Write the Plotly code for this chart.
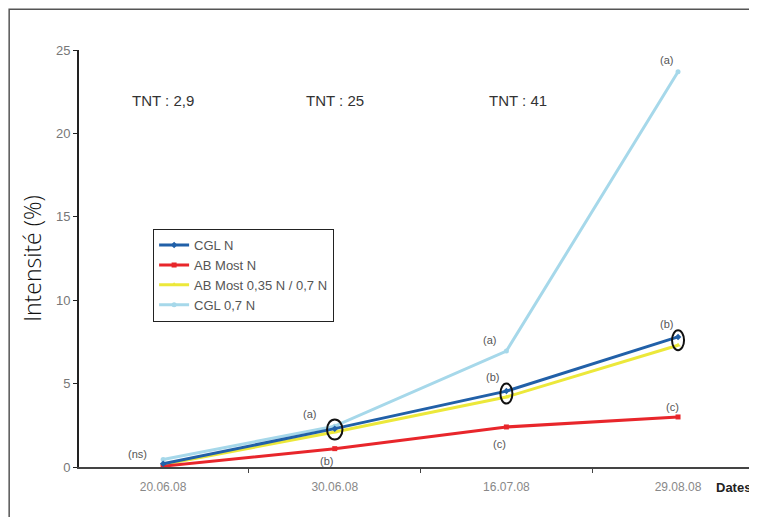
import plotly.graph_objects as go

dates = ["20.06.08", "30.06.08", "16.07.08", "29.08.08"]
cgl_n = [0.2, 2.3, 4.55, 7.8]
ab_most_n = [0.05, 1.1, 2.4, 3.0]
ab_most_mix = [0.15, 2.1, 4.2, 7.3]
cgl_07n = [0.45, 2.45, 6.95, 23.7]

tnt_labels = ["TNT : 2,9", "TNT : 25", "TNT : 41"]
letters = [
    (0, 0.75, "(ns)", -0.15), (1, 3.2, "(a)", -0.15), (1, 0.35, "(b)", -0.05),
    (2, 7.6, "(a)", -0.1), (2, 5.4, "(b)", -0.08), (2, 1.4, "(c)", -0.04),
    (3, 8.6, "(b)", -0.07), (3, 3.6, "(c)", -0.03), (3, 24.4, "(a)", -0.07),
]
circled = [(1, 2.25, 0.045), (2, 4.4, 0.035), (3, 7.6, 0.035)]

series = [
    ("CGL 0,7 N", cgl_07n, "#a6d8ea", "circle", 4),
    ("AB Most 0,35 N / 0,7 N", ab_most_mix, "#ece83a", "triangle-up", 3),
    ("AB Most N", ab_most_n, "#e8262b", "square", 2),
    ("CGL N", cgl_n, "#2160a8", "diamond", 1),
]

fig = go.Figure()
for name, vals, col, sym, rank in series:
    fig.add_trace(go.Scatter(
        x=dates, y=vals, name=name, mode="lines+markers",
        line=dict(color=col, width=3),
        marker=dict(color=col, size=5, symbol=sym),
        legendrank=rank,
    ))

ann = []
for i, t in enumerate(tnt_labels):
    ann.append(dict(x=i + (0.07 if i == 2 else 0), y=22.0, xref="x", yref="y", text=t,
                    showarrow=False, font=dict(size=15, color="#333")))
for xi, yv, t, dx in letters:
    ann.append(dict(x=xi + dx, y=yv, xref="x", yref="y", text=t,
                    showarrow=False, font=dict(size=11, color="#555")))
ann.append(dict(x=1.0, y=0, xref="paper", yref="paper", xanchor="right", yanchor="top",
                yshift=-11, xshift=-4, text="<b>Dates</b>", showarrow=False,
                font=dict(size=13, color="#222")))

shapes = []
for xi, yv, hw in circled:
    shapes.append(dict(type="circle", xref="x", yref="y",
                       x0=xi - hw, x1=xi + hw, y0=yv - 0.6, y1=yv + 0.6,
                       line=dict(color="#111", width=2)))
shapes.append(dict(type="rect", xref="paper", yref="paper",
                   x0=-0.103, x1=1.05, y0=-0.3, y1=1.098,
                   line=dict(color="#555", width=1.5)))

fig.update_layout(
    width=749, height=509,
    margin=dict(l=71, r=0, t=42, b=50),
    paper_bgcolor="white", plot_bgcolor="white",
    font=dict(family="Liberation Sans, Arial, sans-serif", color="#555"),
    showlegend=True,
    legend=dict(x=0.109, y=0.571, xanchor="left", yanchor="top",
                bgcolor="white", bordercolor="#222", borderwidth=1.2,
                font=dict(size=13, color="#555"), itemwidth=30,
                tracegroupgap=0),
    annotations=ann, shapes=shapes,
    xaxis=dict(type="category", range=[-0.49, 3.46], showgrid=False,
               showline=True, linecolor="#444", linewidth=2,
               ticks="outside", tickson="boundaries", ticklen=4, tickcolor="#444",
               ticklabelstandoff=8,
               tickfont=dict(size=12, color="#888"), zeroline=False),
    yaxis=dict(range=[0, 25], showgrid=False, showline=True, linecolor="#222",
               linewidth=2, ticks="outside", ticklen=4, tickcolor="#222",
               tickvals=[0, 5, 10, 15, 20, 25],
               tickfont=dict(size=13, color="#777"), zeroline=False,
               title=dict(text="Intensité (%)",
                          font=dict(family="Open Sans, sans-serif", size=23,
                                    color="#111", weight=300),
                          standoff=8)),
)

fig.write_html("out.html")
